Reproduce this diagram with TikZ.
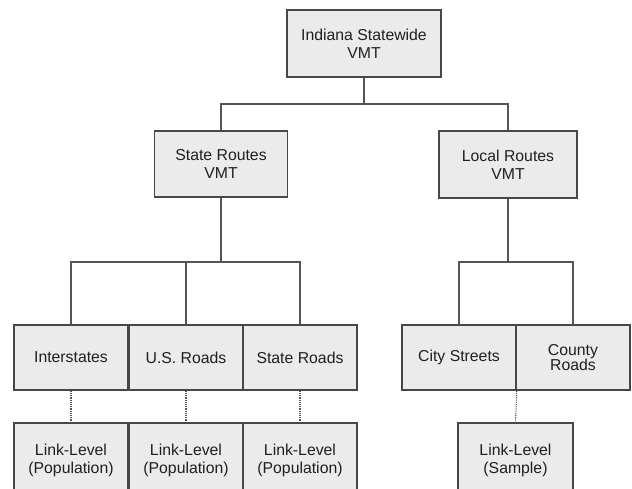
\documentclass[tikz,border=0pt]{standalone}
\usepackage{fontspec}
\setmainfont{Liberation Sans}
\begin{document}
\begin{tikzpicture}[x=1pt,y=-1pt,
  box/.style={draw=boxline, fill=boxfill, line width=1.6pt, inner sep=0pt,
    align=center, font=\fontsize{15.8}{18}\selectfont, text=black!88},
  link/.style={draw=linkgray, line width=1.6pt},
  dotlink/.style={draw=linkgray, line width=1.1pt, dash pattern=on 1.1pt off 1.1pt}]
\definecolor{boxfill}{HTML}{EBEBEB}
\definecolor{boxline}{HTML}{474747}
\definecolor{linkgray}{HTML}{555555}
\useasboundingbox[fill=white] (0,0) rectangle (632,489);

% top level
\node[box, minimum width=154pt, minimum height=67pt] (top) at (364,43.5) {Indiana Statewide\\VMT};

% second level
\node[box, minimum width=133pt, minimum height=66pt] (state) at (221,164) {State Routes\\VMT};
\node[box, minimum width=138pt, minimum height=67pt] (local) at (508,164.5) {Local Routes\\VMT};

% road classes
\node[box, minimum width=114.5pt, minimum height=65pt] (inter) at (71,357.5) {Interstates};
\node[box, minimum width=114.5pt, minimum height=65pt] (us) at (186,357.5) {U.S. Roads};
\node[box, minimum width=114.5pt, minimum height=65pt] (sr) at (300,357.5) {State Roads};
\node[box, minimum width=114pt, minimum height=65pt] (city) at (459,357.5) {City Streets};
\node[box, minimum width=114pt, minimum height=65pt, font=\fontsize{15.8}{11}\selectfont] (county) at (573,357.5) {County\\Roads};

% link-level estimates (run past the lower edge)
\node[box, minimum width=114.5pt, minimum height=74pt] (l1) at (71,460) {Link-Level\\(Population)};
\node[box, minimum width=114.5pt, minimum height=74pt] (l2) at (186,460) {Link-Level\\(Population)};
\node[box, minimum width=114.5pt, minimum height=74pt] (l3) at (300,460) {Link-Level\\(Population)};
\node[box, minimum width=115pt, minimum height=74pt] (l4) at (515.5,460) {Link-Level\\(Sample)};

% tree connectors
\draw[link] (top.south) -- ++(0,26) -| (state.north);
\draw[link] (top.south) ++(0,26) -| (local.north);
\draw[link] (state.south) -- ++(0,64) -| (inter.north);
\draw[link] (state.south) ++(0,64) -| (sr.north);
\draw[link] (us.north) -- (us.north |- 0,261);
\draw[link] (local.south) -- ++(0,63) -| (city.north);
\draw[link] (local.south) ++(0,63) -| (county.north);

% dotted links
\draw[dotlink] (inter.south) -- (l1.north);
\draw[dotlink] (us.south) -- (l2.north);
\draw[dotlink] (sr.south) -- (l3.north);
\draw[dotlink] (city.south east) -- (l4.north);
\end{tikzpicture}
\end{document}
